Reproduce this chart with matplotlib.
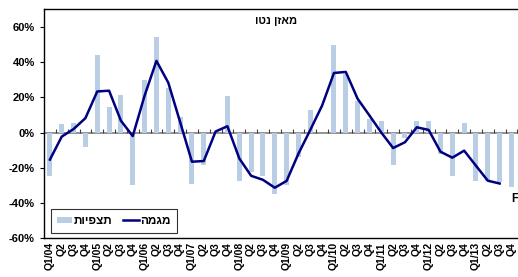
import matplotlib
matplotlib.use("Agg")
import matplotlib.pyplot as plt
import numpy as np

plt.rcParams['font.family'] = ['Liberation Sans', 'DejaVu Sans']
plt.rcParams['font.weight'] = 'bold'

# quarters 2004-2013
years = ["04", "05", "06", "07", "08", "09", "10", "11", "12", "13"]
quarter_labels = []
for y in years:
    quarter_labels += ["Q1/" + y, "Q2", "Q3", "Q4"]

# observations (bars), percent
observed = [-25, 5, 5.5, -8.4, 44, 14.5, 21.5, -30,
            30, 54.3, 25.3, 9, -29.3, -18.3, 0, 21,
            -27.8, -22.7, -25, -35.2, -29.9, -14, 12.6, 0,
            50, 33.5, 17.7, 7.8, 6.3, -18.3, -3, 6.3,
            6.3, -12.2, -25, 5.5, -27.4, -27.4, -28.4, -31.2]

# trend (line), last quarter missing
trend = [-15.4, -2.3, 2, 8.2, 23.4, 23.8, 6.7, -2,
         21, 40.8, 28.4, 6, -16.6, -16.2, 0.6, 3.6,
         -14.7, -24.6, -26.9, -31.4, -27.5, -12, 1.5, 15.4,
         33.9, 34.5, 19.2, 9.7, 0, -8.8, -5.5, 3,
         1.5, -10.9, -14.3, -10.3, -18.9, -27.4, -29, np.nan]

title_text = "מאזן נטו"
bar_label = "תצפיות"
line_label = "מגמה"


def rtl(s):
    # matplotlib has no bidi support, so flip the hebrew strings
    return s[::-1]


x = np.arange(len(quarter_labels))

fig = plt.figure(figsize=(5.18, 2.77), dpi=100)
ax = fig.add_axes([44 / 518, 1 - 238 / 277, 474 / 518, 229 / 277])

bars = ax.bar(x, observed, width=0.42, color="#B9CDE5", label=rtl(bar_label), zorder=2)
line, = ax.plot(x, trend, color="#000080", lw=1.8, label=rtl(line_label), zorder=3)

ax.set_xlim(-0.5, len(x) - 0.45)
ax.set_ylim(-60, 70.3)

# zero line with small tick marks between quarters
ax.axhline(0, color="#808080", lw=1.2, zorder=1)
ax.vlines(np.arange(len(x)) + 0.5, 0, 2, color="#404040", lw=0.8, zorder=1)

ax.set_yticks(np.arange(-60, 61, 20))
ax.set_yticklabels([f"{v}%" for v in range(-60, 61, 20)], fontsize=8, fontweight="bold")
ax.tick_params(axis="y", direction="out", length=3, width=0.8)
ax.set_xticks(x)
ax.set_xticklabels(quarter_labels, rotation=90, fontsize=7.5, fontweight="bold")
ax.tick_params(axis="x", length=0, pad=3)

for side in ["left", "top", "bottom"]:
    ax.spines[side].set_color("black")
    ax.spines[side].set_linewidth(1.0)
ax.spines["right"].set_visible(False)

ax.text(19.1, 63.4, rtl(title_text), ha="center", va="center", fontsize=8, fontweight="bold")
ax.text(39.3, -37.7, "F", ha="center", va="center", fontsize=8.5, fontweight="bold")

leg = ax.legend(handles=[bars, line], ncol=2, loc="lower left",
                bbox_to_anchor=(7 / 474, 5 / 229), fontsize=8.5, frameon=True,
                fancybox=False, edgecolor="black", handlelength=1.3,
                handleheight=0.5, handletextpad=0.15, columnspacing=0.9,
                borderpad=0.5, borderaxespad=0.0)
leg.get_frame().set_linewidth(0.8)
for t in leg.get_texts():
    t.set_fontweight("bold")

fig.savefig("out.png", dpi=100)
plt.close(fig)
